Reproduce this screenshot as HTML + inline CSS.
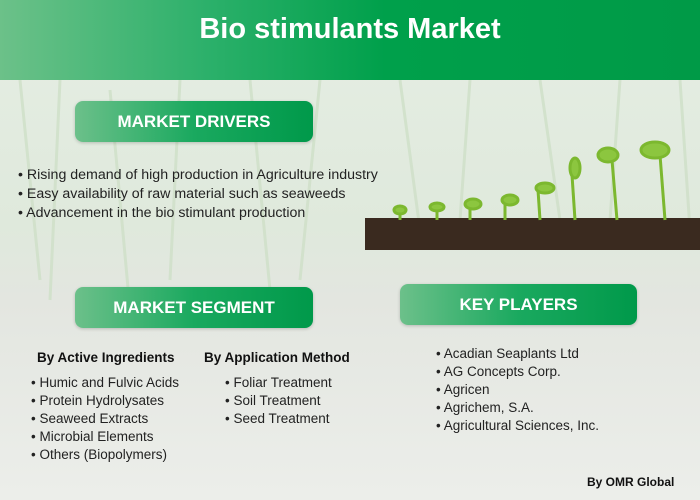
<!DOCTYPE html>
<html><head><meta charset="utf-8"><style>
*{margin:0;padding:0;box-sizing:border-box}
body{width:700px;height:500px;overflow:hidden;font-family:"Liberation Sans",sans-serif;position:relative;background:linear-gradient(180deg,#e6eee4 0%,#dfe9dc 45%,#e3e6e0 60%,#eceeea 100%)}
.abs{position:absolute}
#hdr{left:0;top:0;width:700px;height:80px;background:linear-gradient(90deg,#6cc189 0%,#2bb06a 30%,#00a04b 55%,#009a47 100%);color:#fff;font-weight:bold;font-size:29px;text-align:center;line-height:58px}
.pill{border-radius:8px;background:linear-gradient(90deg,#6cc08a,#1aa95f 50%,#00994a);color:#fff;font-weight:bold;font-size:17px;text-align:center;box-shadow:0 1px 3px rgba(0,0,0,.2)}
.txt{color:#222;font-size:13.5px;line-height:18px}
.h{font-weight:bold;color:#111;font-size:13.5px}
</style></head><body>
<div id="hdr" class="abs">Bio stimulants Market</div>
<svg class="abs" style="left:0;top:80px" width="700" height="420">
<g stroke="#cfe0c8" stroke-width="3" opacity=".8">
<line x1="20" y1="0" x2="40" y2="200"/><line x1="60" y1="0" x2="50" y2="220"/><line x1="110" y1="10" x2="130" y2="230"/><line x1="180" y1="0" x2="170" y2="200"/><line x1="250" y1="0" x2="270" y2="210"/><line x1="320" y1="0" x2="300" y2="200"/><line x1="400" y1="0" x2="420" y2="150"/><line x1="470" y1="0" x2="460" y2="140"/><line x1="540" y1="0" x2="560" y2="140"/><line x1="620" y1="0" x2="610" y2="140"/><line x1="680" y1="0" x2="690" y2="150"/>
</g>
<rect x="365" y="138" width="335" height="32" fill="#3a2a1f"/>
<g stroke="#7cb82f" stroke-width="3" fill="#8cc63f">
<line x1="400" y1="140" x2="400" y2="132"/><ellipse cx="400" cy="130" rx="6" ry="4"/>
<line x1="437" y1="140" x2="437" y2="128"/><ellipse cx="437" cy="127" rx="7" ry="4"/>
<line x1="470" y1="140" x2="470" y2="125"/><ellipse cx="473" cy="124" rx="8" ry="5"/>
<line x1="505" y1="140" x2="505" y2="122"/><ellipse cx="510" cy="120" rx="8" ry="5"/>
<line x1="540" y1="140" x2="538" y2="110"/><ellipse cx="545" cy="108" rx="9" ry="5"/>
<line x1="575" y1="140" x2="572" y2="95"/><ellipse cx="575" cy="88" rx="5" ry="10"/>
<line x1="617" y1="140" x2="612" y2="80"/><ellipse cx="608" cy="75" rx="10" ry="7"/>
<line x1="665" y1="140" x2="660" y2="75"/><ellipse cx="655" cy="70" rx="14" ry="8"/>
</g>
</svg>
<div class="abs pill" style="left:75px;top:101px;width:238px;height:41px;line-height:41px">MARKET DRIVERS</div>
<div class="abs txt" style="left:18px;top:166px;font-size:14.2px;line-height:19px">• Rising demand of high production in Agriculture industry<br>• Easy availability of raw material such as seaweeds<br>• Advancement in the bio stimulant production</div>
<div class="abs pill" style="left:75px;top:287px;width:238px;height:41px;line-height:41px">MARKET SEGMENT</div>
<div class="abs pill" style="left:400px;top:284px;width:237px;height:41px;line-height:41px">KEY PLAYERS</div>
<div class="abs h" style="left:37px;top:350px">By Active Ingredients</div>
<div class="abs h" style="left:204px;top:350px">By Application Method</div>
<div class="abs txt" style="left:31px;top:374px">• Humic and Fulvic Acids<br>• Protein Hydrolysates<br>• Seaweed Extracts<br>• Microbial Elements<br>• Others (Biopolymers)</div>
<div class="abs txt" style="left:225px;top:374px">• Foliar Treatment<br>• Soil Treatment<br>• Seed Treatment</div>
<div class="abs txt" style="left:436px;top:345px">• Acadian Seaplants Ltd<br>• AG Concepts Corp.<br>• Agricen<br>• Agrichem, S.A.<br>• Agricultural Sciences, Inc.</div>
<div class="abs h" style="left:587px;top:475px;font-size:12px">By OMR Global</div>
</body></html>
